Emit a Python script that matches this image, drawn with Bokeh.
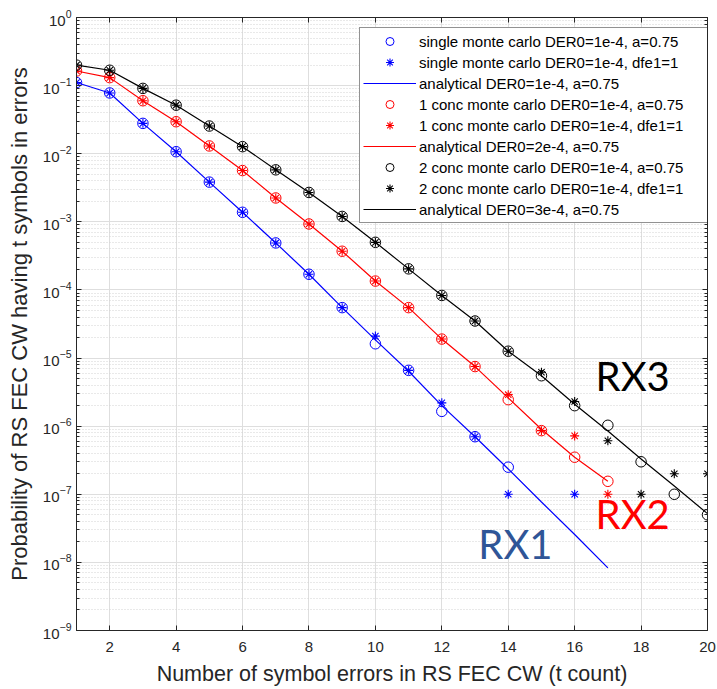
from bokeh.plotting import figure
from bokeh.models import (Range1d, FixedTicker, LogAxis, LinearAxis, Legend, LegendItem,
                          CustomJSTickFormatter, ColumnDataSource)
from bokeh.core.properties import value
from bokeh.embed import file_html
from bokeh.resources import INLINE

# ---------------- data ----------------
# single receiver (blue)
t_single_mc = [1, 2, 3, 4, 5, 6, 7, 8, 9, 10, 11, 12, 13, 14]
single_mc = [0.111, 0.078, 0.0279, 0.0107, 0.00383, 0.00138, 4.9e-4, 1.7e-4,
             5.5e-5, 1.62e-5, 6.6e-6, 1.65e-6, 7.0e-7, 2.5e-7]
t_single_dfe = [1, 2, 3, 4, 5, 6, 7, 8, 9, 10, 11, 12, 13, 14, 16]
single_dfe = [0.111, 0.078, 0.0279, 0.0107, 0.00383, 0.00138, 4.9e-4, 1.7e-4,
              5.5e-5, 2.1e-5, 6.6e-6, 2.2e-6, 7.0e-7, 1.0e-7, 1.0e-7]
t_single_an = [1, 2, 3, 4, 5, 6, 7, 8, 9, 10, 11, 12, 13, 14, 15, 16, 17]
single_an = [0.111, 0.078, 0.0279, 0.0107, 0.00383, 0.00138, 4.9e-4, 1.7e-4,
             5.5e-5, 1.85e-5, 6.4e-6, 2.0e-6, 7.0e-7, 2.35e-7, 7.7e-8, 2.57e-8, 8.3e-9]

# 1 concatenated (red)
t_conc1_mc = [1, 2, 3, 4, 5, 6, 7, 8, 9, 10, 11, 12, 13, 14, 15, 16, 17]
conc1_mc = [0.164, 0.131, 0.060, 0.0295, 0.013, 0.00566, 0.00224, 9.3e-4,
            3.7e-4, 1.35e-4, 5.5e-5, 1.9e-5, 7.5e-6, 2.45e-6, 8.6e-7, 3.5e-7, 1.55e-7]
t_conc1_dfe = [1, 2, 3, 4, 5, 6, 7, 8, 9, 10, 11, 12, 13, 14, 15, 16, 17]
conc1_dfe = [0.164, 0.131, 0.060, 0.0295, 0.013, 0.00566, 0.00224, 9.3e-4,
             3.7e-4, 1.35e-4, 5.5e-5, 1.9e-5, 7.5e-6, 2.9e-6, 8.6e-7, 7.2e-7, 1.0e-7]
t_conc1_an = [1, 2, 3, 4, 5, 6, 7, 8, 9, 10, 11, 12, 13, 14, 15, 16, 17]
conc1_an = [0.164, 0.131, 0.060, 0.0295, 0.013, 0.00566, 0.00224, 9.3e-4,
            3.7e-4, 1.35e-4, 5.5e-5, 1.9e-5, 7.5e-6, 2.6e-6, 9.0e-7, 3.5e-7, 1.55e-7]

# 2 concatenated (black)
t_conc2_mc = [1, 2, 3, 4, 5, 6, 7, 8, 9, 10, 11, 12, 13, 14, 15, 16, 17, 18, 19, 20]
conc2_mc = [0.20, 0.168, 0.091, 0.0516, 0.0255, 0.0127, 0.0058, 0.0027, 0.0012,
            5.0e-4, 2.04e-4, 8.3e-5, 3.5e-5, 1.26e-5, 5.5e-6, 2.0e-6, 1.03e-6,
            3.0e-7, 1.0e-7, 5.0e-8]
t_conc2_dfe = [1, 2, 3, 4, 5, 6, 7, 8, 9, 10, 11, 12, 13, 14, 15, 16, 17, 18, 19, 20]
conc2_dfe = [0.20, 0.168, 0.091, 0.0516, 0.0255, 0.0127, 0.0058, 0.0027, 0.0012,
             5.0e-4, 2.04e-4, 8.3e-5, 3.5e-5, 1.26e-5, 6.2e-6, 2.3e-6, 6.1e-7,
             1.0e-7, 2.0e-7, 2.0e-7]
t_conc2_an = [1, 2, 3, 4, 5, 6, 7, 8, 9, 10, 11, 12, 13, 14, 15, 16, 17, 18, 19, 20]
conc2_an = [0.20, 0.168, 0.091, 0.0516, 0.0255, 0.0127, 0.0058, 0.0027, 0.0012,
            5.0e-4, 2.04e-4, 8.3e-5, 3.5e-5, 1.26e-5, 5.5e-6, 2.1e-6, 8.5e-7,
            3.3e-7, 1.32e-7, 5.2e-8]

legend_labels = [
    "single monte carlo DER0=1e-4, a=0.75",
    "single monte carlo DER0=1e-4, dfe1=1",
    "analytical DER0=1e-4, a=0.75",
    "1 conc monte carlo DER0=1e-4, a=0.75",
    "1 conc monte carlo DER0=1e-4, dfe1=1",
    "analytical DER0=2e-4, a=0.75",
    "2 conc monte carlo DER0=1e-4, a=0.75",
    "2 conc monte carlo DER0=1e-4, dfe1=1",
    "analytical DER0=3e-4, a=0.75",
]

x_ticks = [2, 4, 6, 8, 10, 12, 14, 16, 18, 20]
y_exponents = [-9, -8, -7, -6, -5, -4, -3, -2, -1, 0]

rx_labels = ["RX1", "RX2", "RX3"]
rx_x = [13.1, 16.63, 16.63]
rx_y = [1.84e-8, 5.1e-8, 5.5e-6]
rx_colors = ["#2f5597", "#ff0000", "#000000"]

x_title = "Number of symbol errors in RS FEC CW (t count)"
y_title = "Probability of RS FEC CW having t symbols in errors"

# ---------------- figure ----------------
AX = "#262626"
FONT = "Liberation Sans"

y_major = [10.0 ** e for e in y_exponents]
y_minor = [m * 10.0 ** e for e in y_exponents[:-1] for m in range(2, 10)]

p = figure(width=717, height=689, x_range=Range1d(1, 20), y_range=Range1d(1e-9, 1),
           y_axis_type="log", output_backend="svg", toolbar_location=None,
           min_border_left=76, min_border_right=10, min_border_top=17, min_border_bottom=59,
           background_fill_color="white", border_fill_color="white")
p.outline_line_color = AX
p.outline_line_width = 1

xa = p.xaxis[0]
ya = p.yaxis[0]
xa.ticker = FixedTicker(ticks=x_ticks)
ya.ticker = FixedTicker(ticks=y_major, minor_ticks=y_minor)

for ax in (xa, ya):
    ax.axis_line_color = AX
    ax.major_tick_line_color = AX
    ax.minor_tick_line_color = AX
    ax.major_tick_in = 5
    ax.major_tick_out = 0
    ax.minor_tick_in = 3
    ax.minor_tick_out = 0
    ax.major_label_text_color = AX
    ax.major_label_text_font = FONT
    ax.major_label_text_font_size = "15px"
    ax.axis_label_text_color = AX
    ax.axis_label_text_font = FONT
    ax.axis_label_text_font_style = "normal"
xa.minor_tick_in = 0
xa.major_label_standoff = 11
xa.axis_label = x_title
xa.axis_label_text_font_size = "21.5px"
xa.axis_label_standoff = 7
ya.major_label_standoff = 5
ya.axis_label = y_title
ya.axis_label_text_font_size = "22px"
ya.axis_label_standoff = 8

blank = CustomJSTickFormatter(code="return ''")
top_ax = LinearAxis(ticker=FixedTicker(ticks=x_ticks), formatter=blank,
                    major_tick_in=5, major_tick_out=0, minor_tick_in=0, minor_tick_out=0,
                    major_label_standoff=0, axis_line_color=AX, major_tick_line_color=AX)
right_ax = LogAxis(ticker=FixedTicker(ticks=y_major, minor_ticks=y_minor), formatter=blank,
                   major_tick_in=5, major_tick_out=0, minor_tick_in=3, minor_tick_out=0,
                   major_label_standoff=0, axis_line_color=AX, major_tick_line_color=AX,
                   minor_tick_line_color=AX)
p.add_layout(top_ax, "above")
p.add_layout(right_ax, "right")

p.xgrid.ticker = FixedTicker(ticks=x_ticks)
p.xgrid.grid_line_color = "#dedede"
p.ygrid.ticker = FixedTicker(ticks=y_major, minor_ticks=y_minor)
p.ygrid.grid_line_color = "#dedede"
p.ygrid.minor_grid_line_color = "#d2d2d2"
p.ygrid.minor_grid_line_dash = "1 2"

series = [
    ("#0000ff", t_single_mc, single_mc, t_single_dfe, single_dfe, t_single_an, single_an),
    ("#ff0000", t_conc1_mc, conc1_mc, t_conc1_dfe, conc1_dfe, t_conc1_an, conc1_an),
    ("#000000", t_conc2_mc, conc2_mc, t_conc2_dfe, conc2_dfe, t_conc2_an, conc2_an),
]
renderers = []
for color, tm, ym, td, yd, ta, yan in series:
    rl = p.line(ta, yan, line_color=color, line_width=1.2)
    rc = p.scatter(tm, ym, marker="circle", size=10.5, fill_color=None,
                   line_color=color, line_width=1)
    rs = p.scatter(td, yd, marker="asterisk", size=9, line_color=color, line_width=1.1)
    renderers += [rc, rs, rl]

items = [LegendItem(label=lab, renderers=[r]) for lab, r in zip(legend_labels, renderers)]
legend = Legend(items=items, location=(283, 407))
legend.label_text_font = FONT
legend.label_text_font_size = "15px"
legend.label_text_color = "#000000"
legend.glyph_width = 53
legend.glyph_height = 20
legend.label_height = 20
legend.label_width = 288
legend.label_standoff = 3
legend.spacing = 1
legend.padding = 3
legend.margin = 0
legend.border_line_color = AX
legend.border_line_width = 1
legend.background_fill_color = "white"
legend.background_fill_alpha = 1
p.add_layout(legend, "center")

src = ColumnDataSource(dict(x=rx_x, y=rx_y, text=rx_labels, color=rx_colors))
p.text(x="x", y="y", text="text", source=src, text_color="color",
       text_font=value("Lato"), text_font_size="40px",
       text_align="left", text_baseline="alphabetic")

open("out.html", "w").write(file_html(p, INLINE))
